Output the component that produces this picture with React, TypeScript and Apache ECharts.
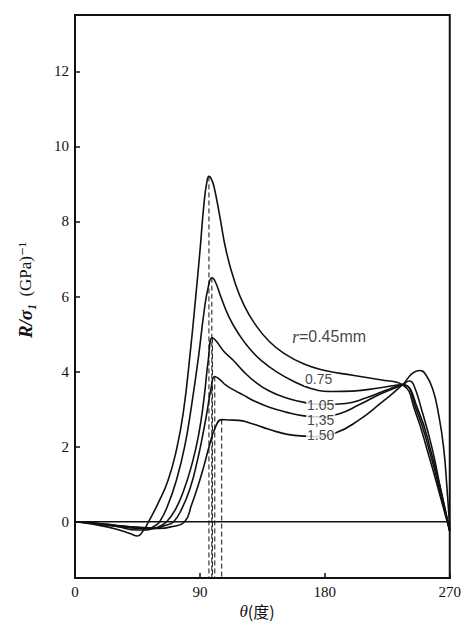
import React, { useEffect, useRef } from "react";
import * as echarts from "echarts";

// θ (deg) vs R/σ1 (GPa)^-1 for each radius r (mm)
const radii = ["0.45", "0.75", "1.05", "1.35", "1.50"];

const r045: [number, number][] = [
  [0, 0], [15, -0.08], [30, -0.2], [40, -0.32], [45, -0.38], [49, -0.25], [53, 0], [60, 0.5],
  [67, 1.1], [73, 1.9], [78, 2.9], [83, 4.5], [87, 6.0], [90, 7.2], [93, 8.5], [95, 9.05],
  [96.5, 9.2], [98, 9.15], [100, 8.95], [104, 8.2], [109, 7.2], [115, 6.4], [122, 5.75],
  [130, 5.25], [140, 4.8], [150, 4.5], [165, 4.2], [180, 4.03], [200, 3.9], [220, 3.78],
  [236, 3.65], [245, 2.95], [255, 1.75], [263, 0.7], [270, -0.25],
];
const r075: [number, number][] = [
  [0, 0], [15, -0.05], [30, -0.13], [45, -0.22], [52, -0.22], [57, -0.12], [61, 0], [67, 0.45],
  [73, 1.1], [79, 2.0], [84, 3.1], [89, 4.4], [93, 5.6], [96, 6.25], [98.6, 6.5], [101, 6.4],
  [105, 6.0], [111, 5.45], [118, 5.0], [126, 4.6], [135, 4.27], [145, 4.0], [157, 3.75],
  [170, 3.55], [185, 3.47], [200, 3.48], [220, 3.57], [236, 3.65], [246, 2.98], [256, 1.8],
  [264, 0.65], [270, -0.25],
];
const r105: [number, number][] = [
  [0, 0], [15, -0.05], [30, -0.12], [45, -0.18], [55, -0.19], [61, -0.12], [66, 0], [72, 0.3],
  [78, 0.8], [84, 1.5], [89, 2.3], [93, 3.3], [96, 4.3], [99, 4.9], [102, 4.8], [107, 4.55],
  [114, 4.3], [121, 4.02], [130, 3.72], [140, 3.48], [152, 3.3], [165, 3.18], [180, 3.12],
  [195, 3.15], [210, 3.3], [224, 3.5], [236, 3.65], [247, 3.0], [257, 1.8], [265, 0.6],
  [270, -0.25],
];
const r135: [number, number][] = [
  [0, 0], [15, -0.04], [30, -0.1], [45, -0.15], [58, -0.17], [65, -0.1], [71, 0], [77, 0.35],
  [83, 0.9], [88, 1.6], [92, 2.3], [95, 2.9], [98, 3.55], [100.7, 3.87], [104, 3.8],
  [109, 3.63], [115, 3.5], [121, 3.38], [130, 3.2], [140, 3.05], [152, 2.92], [165, 2.82],
  [177, 2.79], [190, 2.87], [205, 3.12], [220, 3.4], [236, 3.65], [241, 3.75], [244, 3.65],
  [250, 2.95], [257, 2.0], [263, 0.95], [270, -0.25],
];
const r150: [number, number][] = [
  [0, 0], [15, -0.04], [30, -0.1], [45, -0.15], [60, -0.18], [70, -0.13], [79, 0], [84, 0.45],
  [89, 1.0], [93, 1.5], [97, 2.05], [101, 2.5], [105.7, 2.72], [111, 2.71], [118, 2.7],
  [126, 2.63], [135, 2.52], [145, 2.4], [158, 2.3], [172, 2.27], [188, 2.37], [205, 2.72],
  [220, 3.15], [236, 3.65], [243, 3.95], [248.4, 4.03], [253, 3.9], [258, 3.5], [262, 2.85],
  [265.5, 2.0], [268, 0.9], [270, -0.2],
];
const curves = [r045, r075, r105, r135, r150];

const xTicks = [0, 90, 180, 270];
const yTicks = [0, 2, 4, 6, 8, 10, 12];

// curve annotations: [theta, value, text]
const annotations: [number, number, string][] = [
  [183, 4.93, "{i|r}{a|=0.45mm}"],
  [175.5, 3.79, "0.75"],
  [177, 3.12, "1.05"],
  [177, 2.72, "1,35"],
  [177, 2.32, "1.50"],
];

const X_MIN = 0, X_MAX = 270, Y_MIN = -1.5, Y_MAX = 13.5;

export default function App() {
  const ref = useRef<HTMLDivElement>(null);
  useEffect(() => {
    if (!ref.current) return;
    const chart = echarts.init(ref.current, null, { renderer: "svg" });
    const serif = "'Liberation Serif', 'DejaVu Serif', serif";
    const sans = "'Liberation Sans', 'DejaVu Sans', sans-serif";

    const lineSeries: any[] = curves.map((c, i) => ({
      name: "r=" + radii[i],
      type: "line",
      data: c,
      showSymbol: false,
      smooth: 0.5,
      lineStyle: { color: "#111", width: 1.6 },
      z: 3,
    }));

    const dashSeries: any[] = curves.map((c, i) => {
      let peak = c[0];
      c.forEach((p) => { if (p[0] < 200 && p[1] > peak[1]) peak = p; });
      return {
        name: "peak" + radii[i],
        type: "line",
        data: [[peak[0], peak[1]], [peak[0], Y_MIN]],
        showSymbol: false,
        lineStyle: { color: "#111", width: 1, type: [5, 3] },
        z: 2,
      };
    });

    const zeroLine = {
      name: "zero",
      type: "line",
      data: [[X_MIN, 0], [X_MAX, 0]],
      showSymbol: false,
      lineStyle: { color: "#111", width: 1.5 },
      z: 2,
    };

    const labelSeries = {
      name: "labels",
      type: "scatter",
      data: annotations.map((a) => ({ value: [a[0], a[1]], name: a[2] })),
      symbolSize: 0,
      itemStyle: { color: "transparent" },
      z: 5,
      label: {
        show: true,
        position: "inside",
        formatter: (p: any) => p.name,
        color: "#111",
        fontFamily: sans,
        fontSize: 14,
        lineHeight: 13,
        backgroundColor: "#fff",
        padding: [0, 1],
        rich: {
          i: { fontStyle: "italic", fontFamily: serif, fontSize: 18, lineHeight: 13, color: "#111" },
          a: { fontFamily: sans, fontSize: 16, lineHeight: 13, color: "#111" },
        },
      },
    };

    chart.setOption({
      animation: false,
      backgroundColor: "#fff",
      grid: {
        left: 75, right: 12, top: 15, bottom: 47,
        show: true, borderColor: "#111", borderWidth: 2, backgroundColor: "transparent",
      },
      xAxis: {
        type: "value",
        min: X_MIN, max: X_MAX, interval: 90,
        axisLine: { onZero: false, lineStyle: { color: "#111", width: 2 } },
        axisTick: { inside: true, length: 5, lineStyle: { color: "#111", width: 1.5 } },
        axisLabel: {
          color: "#111", fontSize: 15, fontFamily: serif, margin: 6,
          customValues: xTicks,
        },
        splitLine: { show: false },
      },
      yAxis: {
        type: "value",
        min: Y_MIN, max: Y_MAX,
        axisLine: { onZero: false, lineStyle: { color: "#111", width: 2 } },
        axisTick: { show: true, inside: true, length: 5, customValues: yTicks, lineStyle: { color: "#111", width: 1.5 } },
        axisLabel: { color: "#111", fontSize: 15, fontFamily: serif, margin: 6, customValues: yTicks },
        splitLine: { show: false },
      },
      graphic: [
        {
          type: "text",
          x: 257, y: 611,
          style: {
            text: "{i|θ}(度)",
            textAlign: "center", textVerticalAlign: "middle",
            fill: "#111",
            font: "16px 'Noto Sans CJK SC', sans-serif",
            rich: {
              i: { fontStyle: "italic", fontFamily: serif, fontSize: 17, fill: "#111" },
            },
          },
        },
        {
          type: "text",
          x: 25, y: 290,
          rotation: Math.PI / 2,
          style: {
            text: "{b|R/σ₁}  {n|(GPa)⁻¹}",
            textAlign: "center", textVerticalAlign: "middle",
            fill: "#111",
            rich: {
              b: { fontStyle: "italic", fontWeight: "bold", fontFamily: serif, fontSize: 19, fill: "#111" },
              n: { fontFamily: serif, fontSize: 17, fill: "#111" },
            },
          },
        },
      ],
      series: [zeroLine, ...dashSeries, ...lineSeries, labelSeries],
    });
    return () => chart.dispose();
  }, []);
  return (
    <div
      ref={ref}
      style={{ position: "absolute", left: 0, top: 0, width: 464, height: 625, background: "#fff" }}
    />
  );
}
